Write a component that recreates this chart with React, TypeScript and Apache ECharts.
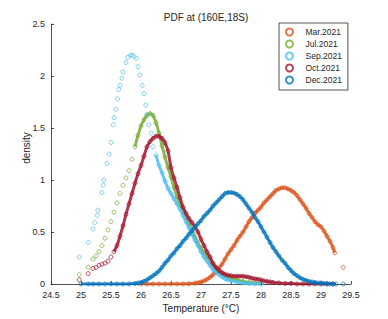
import React, { useEffect, useRef } from "react";
import * as echarts from "echarts";

const seriesNames = ["Mar.2021", "Jul.2021", "Sep.2021", "Oct.2021", "Dec.2021"];
const seriesColors = ["#D95319", "#77AC30", "#4DBEEE", "#A2142F", "#0072BD"];

const marData: number[][] = [
  [26.0, 0], [26.1, 0], [26.2, 0], [26.3, 0], [26.4, 0], [26.5, 0], [26.6, 0], [26.7, 0],
  [26.8, 0.003], [26.9, 0.008], [26.95, 0.012], [27.0, 0.02], [27.05, 0.03], [27.1, 0.045],
  [27.15, 0.065], [27.2, 0.09], [27.25, 0.12], [27.3, 0.155], [27.35, 0.19], [27.4, 0.24],
  [27.45, 0.29], [27.5, 0.33], [27.55, 0.37], [27.6, 0.42], [27.65, 0.46], [27.7, 0.5],
  [27.75, 0.55], [27.8, 0.6], [27.85, 0.64], [27.9, 0.68], [27.95, 0.71], [28.0, 0.74],
  [28.05, 0.78], [28.1, 0.81], [28.15, 0.84], [28.2, 0.87], [28.25, 0.9], [28.3, 0.915],
  [28.35, 0.925], [28.4, 0.925], [28.45, 0.915], [28.5, 0.9], [28.55, 0.88], [28.6, 0.85],
  [28.65, 0.81], [28.7, 0.77], [28.75, 0.73], [28.8, 0.68], [28.85, 0.64], [28.9, 0.6],
  [28.95, 0.57], [29.0, 0.55], [29.05, 0.51], [29.1, 0.46], [29.15, 0.41], [29.2, 0.35],
  [29.23, 0.3], [29.37, 0.16],
];

const julData: number[][] = [
  [24.97, 0.09], [25.12, 0.16], [25.2, 0.24], [25.25, 0.27], [25.3, 0.31], [25.35, 0.37],
  [25.4, 0.44], [25.45, 0.52], [25.5, 0.6], [25.55, 0.69], [25.6, 0.78], [25.65, 0.87],
  [25.7, 0.95], [25.75, 1.02], [25.8, 1.09], [25.85, 1.2], [25.9, 1.32], [25.95, 1.43],
  [26.0, 1.52], [26.05, 1.58], [26.1, 1.62], [26.15, 1.64], [26.2, 1.62], [26.25, 1.55],
  [26.3, 1.45], [26.35, 1.33], [26.4, 1.22], [26.45, 1.12], [26.5, 1.03], [26.55, 0.93],
  [26.6, 0.84], [26.65, 0.77], [26.7, 0.71], [26.75, 0.64], [26.8, 0.58], [26.85, 0.52],
  [26.9, 0.45], [26.95, 0.39], [27.0, 0.34], [27.05, 0.3], [27.1, 0.26], [27.15, 0.22],
  [27.2, 0.18], [27.25, 0.15], [27.3, 0.12], [27.35, 0.1], [27.4, 0.08], [27.45, 0.065],
  [27.5, 0.055], [27.6, 0.04], [27.7, 0.025], [27.8, 0.015], [27.9, 0.01], [28.0, 0.005],
];

const sepData: number[][] = [
  [24.97, 0.26], [25.12, 0.4], [25.2, 0.53], [25.23, 0.59], [25.27, 0.66], [25.28, 0.71],
  [25.35, 0.88], [25.37, 0.95], [25.38, 1.0], [25.43, 1.16], [25.47, 1.25], [25.5, 1.36],
  [25.54, 1.53], [25.55, 1.6], [25.58, 1.68], [25.61, 1.78], [25.63, 1.87], [25.65, 1.91],
  [25.68, 1.98], [25.7, 2.04], [25.75, 2.13], [25.78, 2.18], [25.82, 2.2], [25.85, 2.2],
  [25.88, 2.19], [25.92, 2.17], [25.95, 2.09], [25.98, 2.01], [26.02, 1.91], [26.05, 1.83],
  [26.08, 1.72], [26.1, 1.63], [26.13, 1.53], [26.17, 1.45], [26.2, 1.32], [26.25, 1.24],
  [26.3, 1.14], [26.35, 1.07], [26.4, 0.99], [26.45, 0.92], [26.5, 0.87], [26.55, 0.82],
  [26.6, 0.77], [26.65, 0.72], [26.7, 0.66], [26.75, 0.6], [26.8, 0.54], [26.85, 0.48],
  [26.9, 0.42], [26.95, 0.37], [27.0, 0.31], [27.05, 0.26], [27.1, 0.22], [27.15, 0.18],
  [27.2, 0.14], [27.25, 0.11], [27.3, 0.09], [27.35, 0.07], [27.4, 0.05], [27.45, 0.04],
  [27.5, 0.03], [27.6, 0.02], [27.7, 0.01], [27.8, 0.005], [27.9, 0], [28.0, 0],
];

const octData: number[][] = [
  [24.97, 0.04], [25.12, 0.1], [25.2, 0.15], [25.25, 0.16], [25.3, 0.18], [25.35, 0.19],
  [25.4, 0.2], [25.45, 0.22], [25.5, 0.26], [25.55, 0.31], [25.6, 0.37], [25.65, 0.46],
  [25.7, 0.56], [25.75, 0.67], [25.8, 0.77], [25.85, 0.87], [25.9, 0.97], [25.95, 1.06],
  [26.0, 1.14], [26.05, 1.23], [26.1, 1.32], [26.15, 1.37], [26.2, 1.4], [26.25, 1.42],
  [26.3, 1.42], [26.35, 1.4], [26.4, 1.36], [26.45, 1.28], [26.5, 1.12], [26.55, 1.02],
  [26.6, 0.93], [26.65, 0.83], [26.7, 0.74], [26.75, 0.68], [26.8, 0.63], [26.85, 0.59],
  [26.9, 0.55], [26.95, 0.5], [27.0, 0.43], [27.05, 0.37], [27.1, 0.31], [27.15, 0.26],
  [27.2, 0.2], [27.25, 0.16], [27.3, 0.13], [27.35, 0.11], [27.4, 0.095], [27.45, 0.085],
  [27.5, 0.08], [27.55, 0.075], [27.6, 0.075], [27.65, 0.075], [27.7, 0.075], [27.75, 0.07],
  [27.8, 0.065], [27.85, 0.055], [27.9, 0.05], [27.95, 0.045], [28.0, 0.04], [28.05, 0.03],
  [28.1, 0.025], [28.15, 0.02], [28.2, 0.015], [28.3, 0.01], [28.4, 0.005], [28.5, 0.005],
  [28.6, 0], [28.7, 0], [28.8, 0], [28.9, 0], [29.0, 0], [29.1, 0], [29.2, 0],
];

const decData: number[][] = [
  [25.0, 0], [25.12, 0], [25.2, 0], [25.3, 0], [25.4, 0], [25.5, 0], [25.6, 0], [25.7, 0],
  [25.8, 0], [25.9, 0.005], [25.95, 0.01], [26.0, 0.015], [26.05, 0.025], [26.1, 0.04],
  [26.15, 0.06], [26.2, 0.08], [26.25, 0.1], [26.3, 0.125], [26.35, 0.16], [26.4, 0.2],
  [26.45, 0.23], [26.5, 0.27], [26.55, 0.3], [26.6, 0.34], [26.65, 0.37], [26.7, 0.41],
  [26.75, 0.44], [26.8, 0.48], [26.85, 0.51], [26.9, 0.55], [26.95, 0.58], [27.0, 0.61],
  [27.05, 0.65], [27.1, 0.68], [27.15, 0.71], [27.2, 0.75], [27.25, 0.78], [27.3, 0.81],
  [27.35, 0.84], [27.4, 0.87], [27.45, 0.88], [27.5, 0.88], [27.55, 0.875], [27.6, 0.86],
  [27.65, 0.84], [27.7, 0.81], [27.75, 0.77], [27.8, 0.73], [27.85, 0.69], [27.9, 0.64],
  [27.95, 0.6], [28.0, 0.55], [28.05, 0.5], [28.1, 0.45], [28.15, 0.4], [28.2, 0.35],
  [28.25, 0.31], [28.3, 0.27], [28.35, 0.23], [28.4, 0.2], [28.45, 0.16], [28.5, 0.13],
  [28.55, 0.1], [28.6, 0.08], [28.65, 0.06], [28.7, 0.045], [28.75, 0.035], [28.8, 0.025],
  [28.85, 0.02], [28.9, 0.015], [28.95, 0.01], [29.0, 0.01], [29.05, 0.005], [29.1, 0.005],
  [29.15, 0], [29.2, 0], [29.25, 0], [29.37, 0],
];

const allData = [marData, julData, sepData, octData, decData];

// range of T over which the points are packed tightly enough to read as a solid band
const denseFrom = [26.0, 25.9, 26.25, 25.55, 25.0];
const denseTo = [29.23, 28.0, 28.0, 29.2, 29.25];

const FONT = "'Liberation Sans', Arial, Helvetica, sans-serif";
const INK = "#262626";

export default function App() {
  const ref = useRef<HTMLDivElement>(null);
  useEffect(() => {
    if (!ref.current) return;
    const chart = echarts.init(ref.current, undefined, { renderer: "svg" });
    const bandSeries = seriesNames.map((name, i) => ({
      id: "band-" + i,
      type: "line",
      data: allData[i].filter((p) => p[0] >= denseFrom[i] && p[0] <= denseTo[i]),
      showSymbol: false,
      symbol: "none",
      smooth: 0.3,
      lineStyle: { color: seriesColors[i], width: 3, opacity: 0.85 },
      emphasis: { disabled: true },
      silent: true,
      z: 2 + i * 2,
    }));
    const pointSeries = seriesNames.map((name, i) => ({
      name,
      type: "scatter",
      data: allData[i],
      symbol: "circle",
      symbolSize: 4,
      itemStyle: { color: "rgba(255,255,255,0)", borderColor: seriesColors[i], borderWidth: 0.9 },
      emphasis: { disabled: true },
      z: 3 + i * 2,
    }));
    chart.setOption({
      animation: false,
      backgroundColor: "#ffffff",
      title: {
        text: "PDF at (160E,18S)",
        left: 201,
        top: 7,
        textAlign: "center",
        textStyle: { fontFamily: FONT, fontSize: 10, fontWeight: "normal", color: INK },
      },
      graphic: [
        {
          type: "text",
          x: 26.5,
          y: 148,
          rotation: Math.PI / 2,
          style: {
            text: "density",
            fontFamily: FONT,
            fontSize: 10,
            fill: INK,
            align: "center",
            verticalAlign: "middle",
          },
        },
      ],
      legend: {
        orient: "vertical",
        left: 279,
        top: 23,
        width: 72,
        padding: [3, 6, 4, 6],
        itemGap: 0,
        itemWidth: 22,
        itemHeight: 7,
        backgroundColor: "#ffffff",
        borderColor: INK,
        borderWidth: 0.8,
        borderRadius: 0,
        data: seriesNames,
        textStyle: { fontFamily: FONT, fontSize: 8.5, color: INK, lineHeight: 12 },
      },
      grid: { left: 51, right: 37, top: 24, bottom: 35, containLabel: false },
      xAxis: {
        type: "value",
        min: 24.5,
        max: 29.5,
        interval: 0.5,
        name: "Temperature (°C)",
        nameLocation: "middle",
        nameGap: 19,
        nameTextStyle: { fontFamily: FONT, fontSize: 10, color: INK },
        axisLine: { show: true, lineStyle: { color: INK, width: 0.8 } },
        axisTick: { show: true, inside: true, length: 3, lineStyle: { color: INK, width: 0.8 } },
        axisLabel: { fontFamily: FONT, fontSize: 9, color: INK, margin: 6 },
        splitLine: { show: false },
      },
      yAxis: {
        type: "value",
        min: 0,
        max: 2.5,
        interval: 0.5,
        axisLine: { show: true, lineStyle: { color: INK, width: 0.8 } },
        axisTick: { show: true, inside: true, length: 3, lineStyle: { color: INK, width: 0.8 } },
        axisLabel: { fontFamily: FONT, fontSize: 9, color: INK, margin: 6 },
        splitLine: { show: false },
      },
      series: [...bandSeries, ...pointSeries].sort((a: any, b: any) => a.z - b.z),
    });
    return () => chart.dispose();
  }, []);
  return (
    <div
      ref={ref}
      style={{ position: "absolute", left: 0, top: 0, width: 388, height: 319 }}
    />
  );
}
